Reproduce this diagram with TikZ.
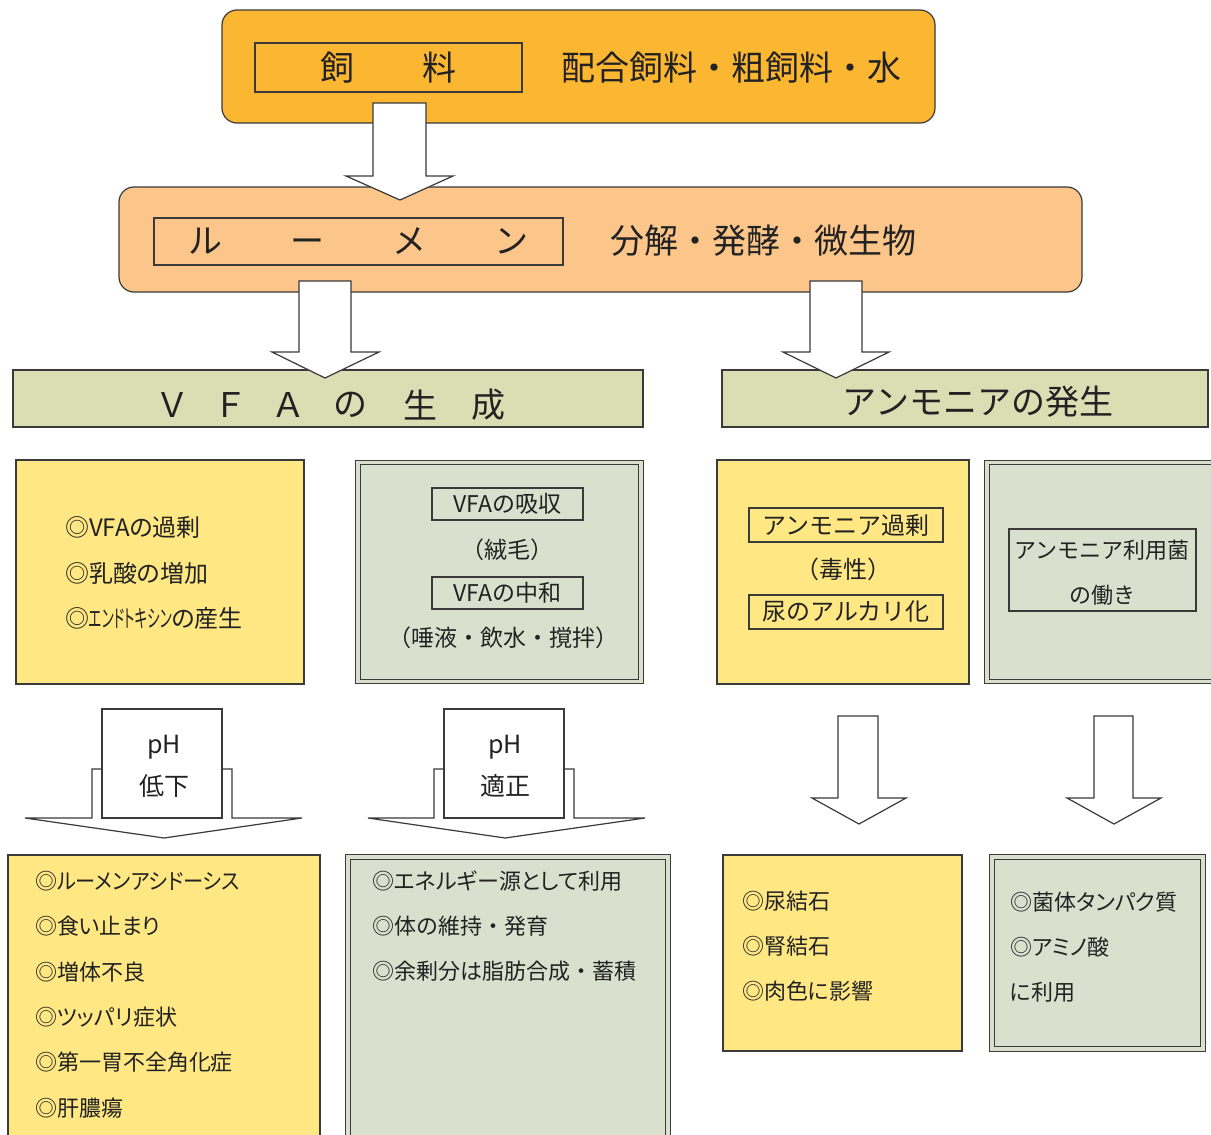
\documentclass[tikz,border=0pt]{standalone}
\usepackage{graphicx}
\usepackage{fontspec}
\setmainfont{Noto Sans CJK JP}
\newfontfamily\pfont[RawFeature=+palt]{Noto Sans CJK JP}
\definecolor{orgA}{HTML}{FBB732}
\definecolor{orgB}{HTML}{FCC68A}
\definecolor{hdr}{HTML}{D9DEB3}
\definecolor{yel}{HTML}{FFE883}
\definecolor{gg}{HTML}{D9E1CE}
\definecolor{ln}{HTML}{3A3A3A}
\definecolor{txt}{HTML}{222222}
\newcommand{\myfs}[1]{\fontsize{#1}{#1}\selectfont}
\begin{document}
\begin{tikzpicture}[x=1pt,y=-1pt,
  every node/.style={inner sep=0pt,outer sep=0pt,text=txt},
  rbox/.style={draw=ln,line width=1.2pt,rounded corners=15pt},
  pbox/.style={draw=ln,line width=1.2pt},
  dbox/.style={draw=ln,line width=1.2pt,double=gg,double distance=3.2pt,fill=gg},
  frm/.style={draw=ln,line width=1.1pt},
  blk/.style={draw=ln,line width=1.2pt,fill=white,line join=miter},
  lst/.style={anchor=west,font=\pfont\myfs{22}},
  lstn/.style={anchor=west,font=\myfs{22}}]
\useasboundingbox (0,0) rectangle (1211,1135);
\fill[white] (0,0) rectangle (1211,1135);

% top box
\node[rbox,fill=orgA,minimum width=713,minimum height=113] (feed) at (578.5,66.5) {};
\node[frm,minimum width=267,minimum height=49,font=\myfs{34}] (feedlbl) at (388.5,67.5) {飼　　料};
\node[font=\myfs{34}] (feedtxt) at (731,68) {配合飼料・粗飼料・水};

% rumen box
\node[rbox,fill=orgB,minimum width=963,minimum height=105] (rumen) at (600.5,239.5) {};
\node[frm,minimum width=409,minimum height=47,font=\myfs{34}] (rumenlbl) at (358.5,241.5) {ル　　ー　　メ　　ン};
\node[font=\myfs{34}] (rumentxt) at (763.5,241) {分解・発酵・微生物};

% headers
\node[pbox,fill=hdr,minimum width=630,minimum height=57] (vfa) at (328,398.5) {};
\foreach \c/\x [count=\i] in {Ｖ/172,Ｆ/230,Ａ/288,の/350,生/420,成/488}
  \node[font=\myfs{34}] (vfa\i) at (\x,405) {\c};
\node[pbox,fill=hdr,minimum width=486,minimum height=57] (amm) at (965,398.5) {};
\node[font=\myfs{34}] (ammtxt) at (978,402) {アンモニアの発生};

% block arrows top
\draw[blk] (373,103) -- (426,103) -- (426,176) -- (453,176) -- (400,200) -- (346,176) -- (373,176) -- cycle;
\draw[blk] (299,281) -- (351,281) -- (351,352) -- (379,352) -- (325,378) -- (272,352) -- (299,352) -- cycle;
\draw[blk] (810,281) -- (862,281) -- (862,352) -- (889,352) -- (836,378) -- (783,352) -- (810,352) -- cycle;

% row boxes
\node[pbox,fill=yel,minimum width=288,minimum height=224] (boxA) at (160,572) {};
\node[anchor=west,font=\pfont\myfs{24}] (a1) at (65,527) {◎VFAの過剰};
\node[anchor=west,font=\pfont\myfs{24}] (a2) at (65,573) {◎乳酸の増加};
\node[anchor=west,font=\pfont\myfs{24}] (a3) at (65,618) {◎\scalebox{0.56}[1]{エンドトキシン}の産生};

\node[dbox,minimum width=283,minimum height=219] (boxB) at (499.5,572) {};
\node[frm,fill=gg,minimum width=151,minimum height=32,font=\myfs{23}] (b1) at (507.5,504) {VFAの吸収};
\node[font=\myfs{23}] (b2) at (507,550) {（絨毛）};
\node[frm,fill=gg,minimum width=151,minimum height=32,font=\myfs{23}] (b3) at (507.5,593) {VFAの中和};
\node[font=\myfs{23}] (b4) at (503,638) {（唾液・飲水・撹拌）};

\node[pbox,fill=yel,minimum width=252,minimum height=224] (boxC) at (843,572) {};
\node[frm,minimum width=194,minimum height=34,font=\myfs{24}] (c1) at (846,525) {アンモニア過剰};
\node[font=\myfs{24}] (c2) at (843,569) {（毒性）};
\node[frm,minimum width=194,minimum height=34,font=\myfs{24}] (c3) at (846,612) {尿のアルカリ化};

\node[dbox,minimum width=236,minimum height=219] (boxD) at (1105,572) {};
\node[frm,minimum width=187,minimum height=82] (d0) at (1102.5,570) {};
\node[font=\myfs{22}] (d1) at (1102,550) {アンモニア利用菌};
\node[font=\myfs{22}] (d2) at (1102,595) {の働き};

% pH arrows
\draw[blk] (102,769) -- (92,769) -- (92,818) -- (25,818) -- (164,838) -- (302,818) -- (232,818) -- (232,769) -- (222,769);
\node[blk,minimum width=120,minimum height=109] (ph1) at (162,763.5) {};
\node[font=\myfs{25}] (ph1a) at (164,747) {pH};
\node[font=\myfs{25}] (ph1b) at (164,786) {低下};

\draw[blk] (444,769) -- (434,769) -- (434,818) -- (368,818) -- (505,838) -- (645,818) -- (574,818) -- (574,769) -- (564,769);
\node[blk,minimum width=120,minimum height=109] (ph2) at (504,763.5) {};
\node[font=\myfs{25}] (ph2a) at (505,747) {pH};
\node[font=\myfs{25}] (ph2b) at (505,786) {適正};

% right small arrows
\draw[blk] (838,716) -- (878,716) -- (878,798) -- (906,798) -- (859,824) -- (812,798) -- (838,798) -- cycle;
\draw[blk] (1094,716) -- (1133,716) -- (1133,798) -- (1161,798) -- (1114,824) -- (1067,798) -- (1094,798) -- cycle;

% bottom boxes
\node[pbox,fill=yel,minimum width=312,minimum height=290] (boxE) at (164,1000) {};
\node[lst] (e1) at (35,881) {◎\scalebox{0.92}[1]{ルーメンアシドーシス}};
\foreach \t [count=\i from 2] in {◎食い止まり,◎増体不良,◎ツッパリ症状,◎第一胃不全角化症,◎肝膿瘍}
  \node[lst] (e\i) at (35,{881+45.4*(\i-1)}) {\t};

\node[dbox,minimum width=320,minimum height=286] (boxF) at (508,1000) {};
\node[lst] (f1) at (372,881) {◎エネルギー源として利用};
\node[lstn] (f2) at (372,926) {◎体の維持・発育};
\node[lstn] (f3) at (372,971) {◎余剰分は脂肪合成・蓄積};

\node[pbox,fill=yel,minimum width=239,minimum height=196] (boxG) at (842.5,953) {};
\foreach \t [count=\i] in {◎尿結石,◎腎結石,◎肉色に影響}
  \node[lst] (g\i) at (742,{901+45*(\i-1)}) {\t};

\node[dbox,minimum width=211,minimum height=192] (boxH) at (1097.5,953) {};
\foreach \t [count=\i] in {◎菌体タンパク質,◎アミノ酸,に利用}
  \node[lst] (h\i) at (1010,{902+45*(\i-1)}) {\t};
\end{tikzpicture}
\end{document}
